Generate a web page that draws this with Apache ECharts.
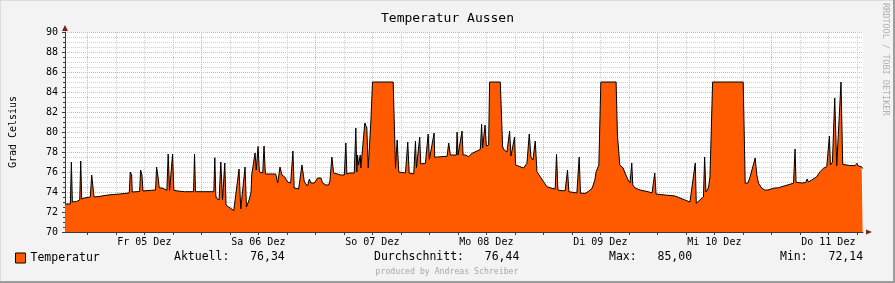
<!DOCTYPE html>
<html><head><meta charset="utf-8">
<script src="https://cdn.jsdelivr.net/npm/echarts@6/dist/echarts.min.js"></script>
<style>html,body{margin:0;padding:0;background:#f3f3f3}#c{width:895px;height:283px}</style>
</head><body><div id="c"></div>
<script>
// Hours relative to Fri 05 Dec 00:00
const hours = [-4.69,-3.57,-3.36,-3.15,-2.31,-1.60,-1.39,-1.18,-0.63,0.63,0.92,1.20,1.41,2.46,2.61,4.35,4.50,6.81,6.94,8.83,9.04,9.33,9.46,11.01,11.22,11.50,11.71,13.45,13.66,14.37,14.58,14.92,15.13,15.91,16.75,17.02,17.32,17.74,17.95,18.22,19.06,20.47,20.68,20.89,22.36,22.57,22.78,26.63,26.84,27.05,27.15,27.74,28.10,28.46,28.94,29.21,29.78,30.83,31.25,31.94,32.30,33.21,33.50,34.05,34.47,34.61,34.93,35.31,35.56,35.94,36.23,36.93,37.20,37.49,39.66,40.08,40.56,40.98,41.55,42.18,42.81,43.29,43.55,44.49,45.18,45.48,45.69,46.38,46.74,47.08,47.43,47.79,48.48,49.18,49.53,50.23,50.80,51.07,51.49,51.85,52.69,53.38,53.59,54.10,54.43,54.64,55.21,56.20,56.53,56.74,56.89,57.10,57.46,57.58,57.94,58.42,58.63,58.84,59.14,59.35,59.69,60.04,64.39,64.88,65.23,65.57,65.93,66.98,67.46,67.76,68.03,68.72,69.08,69.29,69.98,70.19,71.18,71.75,72.02,73.01,73.14,73.64,75.74,76.08,76.43,77.70,77.84,78.05,78.89,79.10,79.59,80.28,81.00,82.05,82.74,83.01,83.22,83.73,84.00,84.48,84.69,86.94,87.43,87.78,88.35,88.90,89.19,89.95,90.16,90.45,91.84,92.55,93.04,93.39,93.81,94.30,94.66,95.35,96.04,96.76,97.81,98.50,98.78,99.07,99.97,100.60,101.09,101.38,101.65,103.06,103.55,103.82,104.18,104.87,105.59,106.28,106.85,107.12,107.69,108.11,111.32,111.60,112.10,112.79,113.21,113.84,114.26,114.62,114.83,115.31,116.37,118.05,118.89,119.46,119.73,121.62,123.72,124.77,125.82,126.87,127.29,127.99,128.20,128.55,129.19,129.71,129.96,130.24,130.76,131.08,131.39,131.64,138.08,138.50,139.06,139.48,139.90,140.60,140.95,141.31,142.01,142.63,143.27,144.46,145.51,146.90,147.89,148.67,149.00,149.21,150.41,151.25,151.53,151.82,152.51,153.57,154.26,154.97,155.67,156.23,156.44,156.86,157.35,157.77,158.67,159.03,160.50,161.61,162.03,162.32,163.02,163.23];
const temps = [72.8,72.8,77.0,73.0,73.05,73.2,77.1,73.3,73.4,73.5,75.7,75.6,73.5,73.55,73.6,73.7,73.8,73.8,73.9,73.9,76.0,75.7,74.0,74.05,76.2,75.7,74.1,74.17,74.23,74.2,76.5,75.4,74.43,74.37,74.17,77.8,74.17,74.17,77.8,74.17,74.1,74.03,74.13,74.03,74.03,77.8,74.03,74.03,77.43,73.7,73.4,73.2,77.0,73.2,76.9,72.7,72.5,72.14,72.27,76.3,72.3,76.5,72.5,73.2,74.0,75.7,75.9,77.9,76.2,78.55,76.0,75.9,78.6,75.8,75.8,74.9,76.5,75.7,75.5,75.0,74.9,78.1,74.4,74.3,76.7,75.7,75.0,74.6,75.3,74.9,75.1,74.9,75.4,75.4,74.9,74.7,74.7,75.1,77.5,75.9,75.8,75.7,75.8,75.7,78.9,75.8,75.9,75.9,80.4,76.0,77.7,76.7,77.7,76.4,76.4,80.9,80.7,80.4,76.4,76.4,81.0,85.0,85.0,76.37,79.2,76.0,75.9,75.9,79.0,75.9,75.8,75.8,79.1,76.4,79.5,76.8,76.87,79.8,77.27,79.9,77.47,77.5,77.57,78.9,77.7,77.7,80.0,77.7,80.1,77.7,77.7,77.53,77.87,78.1,78.27,80.77,78.4,80.7,78.6,78.7,85.0,85.0,78.5,78.2,78.0,80.1,77.6,79.5,76.7,76.5,76.4,76.87,79.8,77.5,77.2,79.1,76.03,75.53,75.03,74.53,74.37,74.3,77.77,74.2,74.13,74.13,76.2,74.03,74.0,73.9,77.5,73.87,73.7,73.87,74.1,74.37,75.2,76.03,76.7,85.0,85.0,79.7,76.7,76.4,75.9,75.2,74.9,76.9,74.7,74.4,74.2,74.03,73.9,75.9,73.8,73.7,73.6,73.4,73.2,73.0,72.87,76.9,72.87,72.9,73.3,73.5,77.5,74.0,74.4,75.5,75.7,85.0,85.0,74.87,74.9,75.43,75.5,77.4,75.7,74.87,74.37,74.2,74.2,74.37,74.43,74.63,74.77,74.87,78.3,74.97,74.9,74.95,75.3,75.0,75.2,75.53,76.03,76.37,76.53,79.6,76.7,76.97,83.4,76.63,85.0,76.77,76.65,76.63,76.87,76.6,76.53,76.34];
const dayLabels = ['Fr 05 Dez','Sa 06 Dez','So 07 Dez','Mo 08 Dez','Di 09 Dez','Mi 10 Dez','Do 11 Dez'];
const labelHours = [12,36,60,84,108,132,156];
const gridHours = [0,6,12,18,24,30,36,42,48,54,60,66,72,78,84,90,96,102,108,114,120,126,132,138,144,150,156,162];
const aktuell = 76.34, durchschnitt = 76.44, maximum = 85.00, minimum = 72.14;

const MONO = '"DejaVu Sans Mono", monospace';
const majorC = '#f4a3a3', minorC = '#cfcfcf', axisC = '#3a3a3a', arrowC = '#7f1f1f', orange = '#ff5a00';
const fmt = v => v.toFixed(2).replace('.', ',');
const chart = echarts.init(document.getElementById('c'), null, {renderer: 'canvas'});
chart.setOption({
  animation: false,
  backgroundColor: '#f3f3f3',
  title: {text: 'Temperatur Aussen', left: 'center', top: 12, padding: 0,
    textStyle: {fontFamily: MONO, fontSize: 13, fontWeight: 'normal', color: '#000'}},
  grid: {left: 64, right: 32, top: 32, bottom: 51, show: true, backgroundColor: '#fff', borderWidth: 0},
  xAxis: [{
    type: 'value', min: -4.7, max: 163.3,
    axisLine: {show: true, onZero: false, lineStyle: {color: axisC, width: 1}},
    axisTick: {show: true, customValues: gridHours, length: 3, lineStyle: {color: axisC}},
    axisLabel: {show: true, customValues: labelHours, formatter: v => dayLabels[Math.round((v - 12) / 24)],
      margin: 5, fontFamily: MONO, fontSize: 10, color: '#000'},
    splitLine: {show: true, lineStyle: {color: [majorC, minorC, minorC, minorC], type: [1, 1], width: 1}}
  }, {
    type: 'value', min: -4.7, max: 163.3, position: 'bottom',
    axisLine: {show: true, onZero: false, symbol: ['none', 'triangle'], symbolSize: [5, 6], symbolOffset: [0, 6],
      lineStyle: {color: arrowC, width: 0}},
    axisTick: {show: false}, axisLabel: {show: false}, splitLine: {show: false}
  }],
  yAxis: [{
    type: 'value', min: 70, max: 90, interval: 2,
    name: 'Grad Celsius', nameLocation: 'middle', nameGap: 47, nameRotate: 90,
    nameTextStyle: {fontFamily: MONO, fontSize: 10, color: '#000'},
    axisLine: {show: true, onZero: false, lineStyle: {color: axisC, width: 1}},
    axisTick: {show: true, length: 3, lineStyle: {color: axisC}},
    axisLabel: {margin: 7, fontFamily: MONO, fontSize: 10, color: '#000'},
    splitLine: {show: true, lineStyle: {color: majorC, type: [1, 1], width: 1}},
    minorTick: {show: true, splitNumber: 4, length: 2, lineStyle: {color: axisC}},
    minorSplitLine: {show: true, lineStyle: {color: minorC, type: [1, 1], width: 1}}
  }, {
    type: 'value', min: 70, max: 90, position: 'left',
    axisLine: {show: true, onZero: false, symbol: ['none', 'triangle'], symbolSize: [6, 6], symbolOffset: [0, 4],
      lineStyle: {color: arrowC, width: 0}},
    axisTick: {show: false}, axisLabel: {show: false}, splitLine: {show: false}
  }],
  legend: {data: ['Temperatur'], left: 15, top: 252, padding: 0, itemWidth: 10, itemHeight: 10,
    icon: 'rect', selectedMode: false, itemStyle: {borderColor: '#000', borderWidth: 1},
    textStyle: {fontFamily: MONO, fontSize: 11.5, color: '#000'}},
  series: [{
    name: 'Temperatur', type: 'line', xAxisIndex: 0, yAxisIndex: 0,
    data: hours.map((h, i) => [h, temps[i]]),
    showSymbol: false, symbol: 'none', color: orange,
    lineStyle: {color: '#000', width: 1},
    areaStyle: {color: orange, opacity: 1, origin: 'start'}
  }],
  graphic: [
    {type: 'rect', shape: {x: 0, y: 0, width: 895, height: 1}, style: {fill: '#dcdcdc'}, silent: true},
    {type: 'rect', shape: {x: 0, y: 0, width: 1, height: 283}, style: {fill: '#dcdcdc'}, silent: true},
    {type: 'rect', shape: {x: 893, y: 0, width: 2, height: 283}, style: {fill: '#9c9c9c'}, silent: true},
    {type: 'rect', shape: {x: 0, y: 281, width: 895, height: 2}, style: {fill: '#9c9c9c'}, silent: true},
    {type: 'text', x: 174, y: 257, silent: true, style: {text: 'Aktuell:   ' + fmt(aktuell), font: '11.5px ' + MONO, fill: '#000', verticalAlign: 'middle'}},
    {type: 'text', x: 374, y: 257, silent: true, style: {text: 'Durchschnitt:   ' + fmt(durchschnitt), font: '11.5px ' + MONO, fill: '#000', verticalAlign: 'middle'}},
    {type: 'text', x: 609, y: 257, silent: true, style: {text: 'Max:   ' + fmt(maximum), font: '11.5px ' + MONO, fill: '#000', verticalAlign: 'middle'}},
    {type: 'text', x: 780, y: 257, silent: true, style: {text: 'Min:   ' + fmt(minimum), font: '11.5px ' + MONO, fill: '#000', verticalAlign: 'middle'}},
    {type: 'text', x: 447, y: 272, silent: true, style: {text: 'produced by Andreas Schreiber', font: '8.2px ' + MONO, fill: '#a8a8a8', align: 'center', verticalAlign: 'middle'}},
    {type: 'text', x: 885, y: 3, rotation: -Math.PI / 2, silent: true, style: {text: 'RRDTOOL / TOBI OETIKER', font: '8.5px ' + MONO, fill: '#b0b0b0', align: 'left', verticalAlign: 'middle'}}
  ]
});
</script></body></html>
